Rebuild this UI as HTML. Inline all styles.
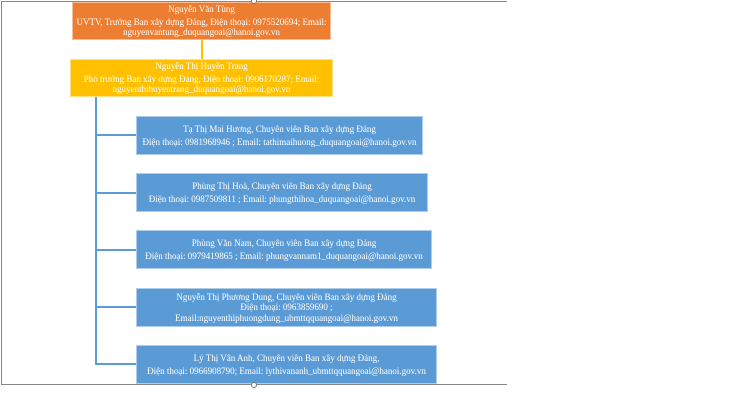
<!DOCTYPE html>
<html><head><meta charset="utf-8"><style>
html,body{margin:0;padding:0;background:#fff;width:740px;height:416px;overflow:hidden;position:relative}
.b{position:absolute;color:#fff;font-family:"Liberation Serif",serif;font-size:9px;line-height:10.5px;text-align:center;display:flex;flex-direction:column;justify-content:center;align-items:center;box-sizing:border-box;border:1px solid rgba(255,255,255,0.5);white-space:nowrap;overflow:visible}
.o{background:#ED7D31}.y{background:#FFC000}.u{background:#5B9BD5}
.l{position:absolute}
.h{position:absolute;width:6px;height:6px;border:1px solid #777;border-radius:50%;background:#fff;box-sizing:border-box}
</style></head><body>
<div class="l" style="left:1px;top:1px;width:506px;height:1px;background:#888"></div>
<div class="l" style="left:1px;top:1px;width:1px;height:384px;background:#888"></div>
<div class="l" style="left:1px;top:384px;width:506px;height:1px;background:#888"></div>
<div class="l" style="left:201px;top:40px;width:2px;height:19px;background:#FFC000"></div>
<div class="l" style="left:95px;top:97px;width:2px;height:268px;background:#5B9BD5"></div>
<div class="l" style="left:95px;top:134px;width:41px;height:2px;background:#5B9BD5"></div>
<div class="l" style="left:95px;top:192px;width:41px;height:2px;background:#5B9BD5"></div>
<div class="l" style="left:95px;top:249px;width:41px;height:2px;background:#5B9BD5"></div>
<div class="l" style="left:95px;top:306px;width:41px;height:2px;background:#5B9BD5"></div>
<div class="l" style="left:95px;top:363px;width:41px;height:2px;background:#5B9BD5"></div>

<div class="b o" style="left:72px;top:2px;width:259px;height:38px"><div style="margin-bottom:2px">Nguyễn Văn Tùng</div><div>UVTV, Trưởng Ban xây dựng Đảng, Điện thoại: 0975520694; Email:<br>nguyenvantung_duquangoai@hanoi.gov.vn</div></div>
<div class="b y" style="left:70px;top:59px;width:263px;height:38px"><div style="margin-bottom:2px">Nguyễn Thị Huyền Trang</div><div>Phó trưởng Ban xây dựng Đảng, Điện thoại: 0906170287; Email:<br>nguyenthihuyentrang_duquangoai@hanoi.gov.vn</div></div>

<div class="b u" style="left:136px;top:116px;width:287px;height:39px"><div style="margin-bottom:2px">Tạ Thị Mai Hương, Chuyên viên Ban xây dựng Đảng</div><div>Điện thoại: 0981968946 ; Email: tathimaihuong_duquangoai@hanoi.gov.vn</div></div>
<div class="b u" style="left:136px;top:173px;width:292px;height:39px"><div style="margin-bottom:2px">Phùng Thị Hoà, Chuyên viên Ban xây dựng Đảng</div><div>Điện thoại: 0987509811 ; Email: phungthihoa_duquangoai@hanoi.gov.vn</div></div>
<div class="b u" style="left:136px;top:230px;width:296px;height:39px"><div style="margin-bottom:2px">Phùng Văn Nam, Chuyên viên Ban xây dựng Đảng</div><div>Điện thoại: 0979419865 ; Email: phungvannam1_duquangoai@hanoi.gov.vn</div></div>
<div class="b u" style="left:136px;top:288px;width:301px;height:39px"><div>Nguyễn Thị Phương Dung, Chuyên viên Ban xây dựng Đảng</div><div>Điện thoại: 0963859690 ;<br>Email:nguyenthiphuongdung_ubmttqquangoai@hanoi.gov.vn</div></div>
<div class="b u" style="left:136px;top:345px;width:301px;height:39px"><div style="margin-bottom:2px">Lý Thị Vân Anh, Chuyên viên Ban xây dựng Đảng,</div><div>Điện thoại: 0966908790; Email: lythivananh_ubmttqquangoai@hanoi.gov.vn</div></div>
<div class="h" style="left:251px;top:-2px"></div>
<div class="h" style="left:251px;top:382px"></div>
</body></html>
